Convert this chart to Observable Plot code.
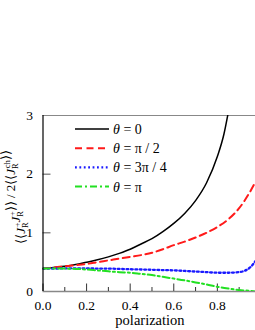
<!DOCTYPE html>
<html><head><meta charset="utf-8">
<script src="https://cdn.jsdelivr.net/npm/d3@7"></script>
<script src="https://cdn.jsdelivr.net/npm/@observablehq/plot@0.6"></script>
<style>
body{margin:0;background:#fff}#c{width:255px;height:330px}
svg text{font-family:"Liberation Serif","Times New Roman",serif !important;}
</style>
</head><body><div id="c"></div>
<script>
// polarization grid
const pol = [0, 0.05, 0.1, 0.15, 0.2, 0.25, 0.3, 0.35, 0.4, 0.45, 0.5, 0.55, 0.6, 0.65, 0.7, 0.75, 0.8, 0.85, 0.9, 0.95, 0.975];
// theta = 0 (black, leaves the frame near 0.85)
const polBlack = [0, 0.05, 0.1, 0.15, 0.2, 0.25, 0.3, 0.35, 0.4, 0.45, 0.5, 0.55, 0.6, 0.65, 0.7, 0.75, 0.8, 0.83, 0.85, 0.86];
const theta0 = [0.39, 0.41, 0.43, 0.46, 0.50, 0.54, 0.59, 0.65, 0.72, 0.81, 0.90, 1.02, 1.16, 1.33, 1.55, 1.85, 2.30, 2.68, 3.05, 3.25];
const thetaHalfPi = [0.39, 0.41, 0.43, 0.45, 0.47, 0.50, 0.53, 0.56, 0.59, 0.62, 0.66, 0.72, 0.79, 0.85, 0.92, 1.00, 1.10, 1.23, 1.42, 1.70, 1.87];
const theta3QuarterPi = [0.39, 0.39, 0.395, 0.395, 0.395, 0.39, 0.39, 0.385, 0.38, 0.375, 0.37, 0.365, 0.36, 0.35, 0.34, 0.33, 0.32, 0.32, 0.33, 0.41, 0.52];
const thetaPi = [0.39, 0.39, 0.39, 0.385, 0.375, 0.36, 0.345, 0.33, 0.32, 0.30, 0.28, 0.25, 0.22, 0.19, 0.155, 0.12, 0.08, 0.05, 0.025, 0.01, 0.0];
const majorTicksX = [0, 0.2, 0.4, 0.6, 0.8];
const minorTicksX = [0.1, 0.3, 0.5, 0.7, 0.9];
const ticksY = [0, 1, 2, 3];
const innerTicksY = [1, 2];
const legendLabels = ["θ = 0", "θ = π / 2", "θ = 3π / 4", "θ = π"];

const series = [
  {name: legendLabels[0], xs: polBlack, ys: theta0, stroke: "#000", width: 1.5, dash: null},
  {name: legendLabels[1], xs: pol, ys: thetaHalfPi, stroke: "#ff1a1a", width: 2, dash: "7,4.5"},
  {name: legendLabels[2], xs: pol, ys: theta3QuarterPi, stroke: "#1a1aff", width: 2.3, dash: "1.8,2.6"},
  {name: legendLabels[3], xs: pol, ys: thetaPi, stroke: "#22e022", width: 2, dash: "7,3,2,3"}
];

const font = "Liberation Serif, Times New Roman, serif";
const lineMarks = series.map(s => Plot.line(s.xs.map((x, i) => ({x, y: s.ys[i]})), {
  x: "x", y: "y", stroke: s.stroke, strokeWidth: s.width, strokeDasharray: s.dash, curve: "monotone-x", clip: true
}));

// tick lengths (px) converted through the scales after layout
const W = 255, H = 330, mT = 115, mB = 39, mL = 42.5, mR = 0;
const xMax = 0.975, yMax = 3;
const pxX = xMax / (W - mL - mR), pxY = yMax / (H - mT - mB);

const chart = Plot.plot({
  width: W, height: H,
  marginTop: mT, marginBottom: mB, marginLeft: mL, marginRight: mR,
  style: {fontFamily: font, fontSize: "13.5px", color: "#000", background: "#fff"},
  x: {domain: [0, xMax], label: null},
  y: {domain: [0, yMax], label: null},
  marks: [
    Plot.ruleY([0], {stroke: "#888", strokeWidth: 1.5}),
    Plot.ruleY([yMax], {stroke: "#888", strokeWidth: 1.2}),
    Plot.ruleX(minorTicksX, {y1: 0, y2: 4 * pxY, stroke: "#333"}),
    Plot.ruleX(majorTicksX, {y1: 0, y2: 7.5 * pxY, stroke: "#333"}),
    Plot.ruleY(innerTicksY, {x1: 0, x2: 8 * pxX, stroke: "#555"}),
    Plot.axisX({ticks: majorTicksX, tickSize: 0, tickPadding: 9, tickFormat: d3.format(".1f"), label: null}),
    Plot.axisY({ticks: ticksY, tickSize: 0, tickPadding: 10, tickFormat: d3.format("d"), label: null}),
    ...lineMarks,
    Plot.ruleX([0], {stroke: "#000", strokeWidth: 1.2})
  ]
});
document.getElementById("c").appendChild(chart);

const svg = d3.select(chart);
// legend
const leg = svg.append("g").attr("font-size", "14px").attr("text-anchor", "start");
series.forEach((s, i) => {
  const y = 129 + i * 19.2;
  leg.append("line").attr("x1", 75).attr("x2", 109).attr("y1", y).attr("y2", y)
    .attr("stroke", s.stroke).attr("stroke-width", s.width).attr("stroke-dasharray", s.dash);
  const t = leg.append("text").attr("x", 113).attr("y", y + 5);
  const parts = s.name.split(" = ");
  t.append("tspan").attr("font-style", "italic").text("θ");
  t.append("tspan").text(" = " + parts[1]);
});
// x label
svg.append("text").attr("x", 150).attr("y", 325).attr("text-anchor", "middle")
  .attr("font-size", "14.5px").text("polarization");
// y label
const yl = svg.append("text").attr("transform", "translate(24.5,197) rotate(-90)")
  .attr("text-anchor", "middle").attr("font-size", "13px");
function J(sup) {
  yl.append("tspan").attr("font-style", "italic").text("J");
  yl.append("tspan").attr("font-size", "8.5px").attr("dy", 3).text("R");
  yl.append("tspan").attr("font-size", "8.5px").attr("dx", -5).attr("dy", -8).text(sup);
  yl.append("tspan").attr("dy", 5).text("");
}
yl.append("tspan").text("⟨⟨");
J("+"); J("+");
yl.append("tspan").text("⟩⟩ / 2⟨⟨");
J("ch");
yl.append("tspan").text("⟩⟩");
</script></body></html>
